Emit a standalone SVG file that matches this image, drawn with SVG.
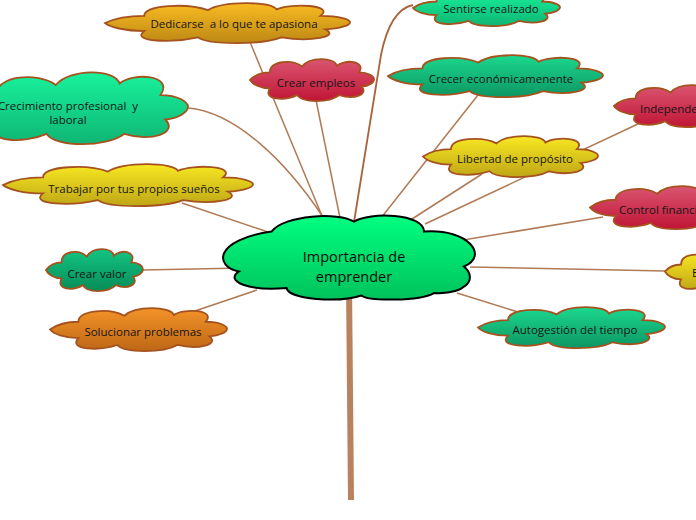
<svg xmlns="http://www.w3.org/2000/svg" xmlns:xlink="http://www.w3.org/1999/xlink" width="696" height="520" viewBox="0 0 696 520">
<style>
.c{fill:none;stroke:#b07a55;stroke-width:1.5}
.cl{stroke:#a5521f;stroke-width:1.8}
.cp{vector-effect:non-scaling-stroke}
.t{font-family:"Open Sans","Noto Sans",sans-serif;font-size:11.5px;fill:#151515;text-anchor:middle}
.ts{text-anchor:start}
.main{font-family:"Open Sans","Noto Sans",sans-serif;font-size:14.5px;font-weight:500;fill:#0a0a0a;text-anchor:middle}
</style>
<defs>
<linearGradient id="gGold" x1="0" y1="0" x2="0" y2="1"><stop offset="0" stop-color="#f9bb22"/><stop offset="1" stop-color="#bd8814"/></linearGradient>
<linearGradient id="gOrange" x1="0" y1="0" x2="0" y2="1"><stop offset="0" stop-color="#f39328"/><stop offset="1" stop-color="#bd6616"/></linearGradient>
<linearGradient id="gYellow" x1="0" y1="0" x2="0" y2="1"><stop offset="0" stop-color="#f8e822"/><stop offset="1" stop-color="#bfa616"/></linearGradient>
<linearGradient id="gRed" x1="0" y1="0" x2="0" y2="1"><stop offset="0" stop-color="#da5570"/><stop offset="1" stop-color="#c01535"/></linearGradient>
<linearGradient id="gGreen" x1="0" y1="0" x2="0" y2="1"><stop offset="0" stop-color="#18f29c"/><stop offset="1" stop-color="#0fb574"/></linearGradient>
<linearGradient id="gTeal" x1="0" y1="0" x2="0" y2="1"><stop offset="0" stop-color="#1cd88e"/><stop offset="1" stop-color="#0c9662"/></linearGradient>
<linearGradient id="gDark" x1="0" y1="0" x2="0" y2="1"><stop offset="0" stop-color="#12c482"/><stop offset="1" stop-color="#078c58"/></linearGradient>
<linearGradient id="gMain" x1="0" y1="0" x2="0" y2="1"><stop offset="0" stop-color="#00ff80"/><stop offset="1" stop-color="#00c25c"/></linearGradient>
<path id="cloud" class="cp" d="M0,50 C4,38 10,32 16,32 C16,4 34,0 42,18 C48,-5 68,-5 70,16 C76,0 94,4 88,32 C96,32 100,42 100,48 C100,56 96,64 90,66 C96,84 84,98 72,86 C64,105 42,105 38,86 C28,100 10,98 16,70 C8,70 2,60 0,50 Z"/>
</defs>

<g id="connectors">
<path class="c" d="M250,42 L322,216"/>
<path class="c" d="M316,100 L340,218"/>
<path class="c" style="stroke:#a8643a;stroke-width:1.8" d="M413,5 C398,8 387,25 381,55 L354,222"/>
<path class="c" d="M188,108 C235,112 285,160 323,217"/>
<path class="c" d="M182,203 L268,232"/>
<path class="c" d="M143,270 L243,268"/>
<path class="c" d="M192,312 L257,290"/>
<path class="c" d="M478,95 L381,218"/>
<path class="c" d="M482,174 L412,219"/>
<path class="c" d="M640,123 L425,224"/>
<path class="c" d="M603,217 L457,241"/>
<path class="c" d="M665,271 L470,267"/>
<path class="c" d="M518,312 L457,293"/>
<path d="M349,282 L351,500" fill="none" stroke="#b8825e" stroke-width="6"/>
</g>

<g id="n-dedicarse">
<use xlink:href="#cloud" class="cl" fill="url(#gGold)" transform="translate(105,3) scale(2.45,0.40)"/>
<text class="t" x="234" y="28" style="white-space:pre">Dedicarse  a lo que te apasiona</text>
</g>
<g id="n-empleos">
<use xlink:href="#cloud" class="cl" fill="url(#gRed)" transform="translate(250,59) scale(1.24,0.42)"/>
<text class="t" x="316" y="87">Crear empleos</text>
</g>
<g id="n-sentirse">
<use xlink:href="#cloud" class="cl" fill="url(#gGreen)" transform="translate(413,-10) scale(1.47,0.36)"/>
<text class="t" x="491" y="13">Sentirse realizado</text>
</g>
<g id="n-crecer">
<use xlink:href="#cloud" class="cl" fill="url(#gTeal)" transform="translate(388,55) scale(2.15,0.42)"/>
<text class="t" x="501" y="83">Crecer económicamenente</text>
</g>
<g id="n-independencia">
<use xlink:href="#cloud" class="cl" fill="url(#gRed)" transform="translate(614,85) scale(1.35,0.42)"/>
<text class="t ts" x="640" y="113">Independencia</text>
</g>
<g id="n-libertad">
<use xlink:href="#cloud" class="cl" fill="url(#gYellow)" transform="translate(423,136) scale(1.75,0.41)"/>
<text class="t" x="515" y="163">Libertad de propósito</text>
</g>
<g id="n-crecimiento">
<use xlink:href="#cloud" class="cl" fill="url(#gGreen)" transform="translate(-40,72) scale(2.28,0.72)"/>
<text class="t" x="68" y="110" style="white-space:pre">Crecimiento profesional  y</text>
<text class="t" x="68" y="124">laboral</text>
</g>
<g id="n-trabajar">
<use xlink:href="#cloud" class="cl" fill="url(#gYellow)" transform="translate(3,164) scale(2.5,0.42)"/>
<text class="t" x="134" y="193">Trabajar por tus propios sueños</text>
</g>
<g id="n-valor">
<use xlink:href="#cloud" class="cl" fill="url(#gDark)" transform="translate(46,249) scale(0.97,0.42)"/>
<text class="t" x="97" y="278">Crear valor</text>
</g>
<g id="n-solucionar">
<use xlink:href="#cloud" class="cl" fill="url(#gOrange)" transform="translate(50,308) scale(1.77,0.43)"/>
<text class="t" x="143" y="336">Solucionar problemas</text>
</g>
<g id="n-control">
<use xlink:href="#cloud" class="cl" fill="url(#gRed)" transform="translate(590,186) scale(1.6,0.43)"/>
<text class="t ts" x="619" y="214">Control financiero</text>
</g>
<g id="n-e">
<use xlink:href="#cloud" class="cl" fill="url(#gYellow)" transform="translate(665,252) scale(1.0,0.39)"/>
<text class="t ts" x="692" y="277">E</text>
</g>
<g id="n-autogestion">
<use xlink:href="#cloud" class="cl" fill="url(#gTeal)" transform="translate(478,307) scale(1.87,0.41)"/>
<text class="t" x="575" y="334">Autogestión del tiempo</text>
</g>
<g id="n-main">
<path class="cp" fill="url(#gMain)" stroke="#000" stroke-width="2" transform="translate(224,215) scale(2.5,0.83)" d="M19,20 C24,0 46,-4 52,8 C58,-4 80,-2 80,20 C98,16 106,50 96,62 C102,78 96,96 84,94 C78,104 58,104 55,97 C46,106 26,102 25,88 C10,92 0,80 6,68 C-4,62 -4,30 19,20 Z"/>
<text class="main" x="354" y="262">Importancia de</text>
<text class="main" x="354" y="282">emprender</text>
</g>
</svg>
